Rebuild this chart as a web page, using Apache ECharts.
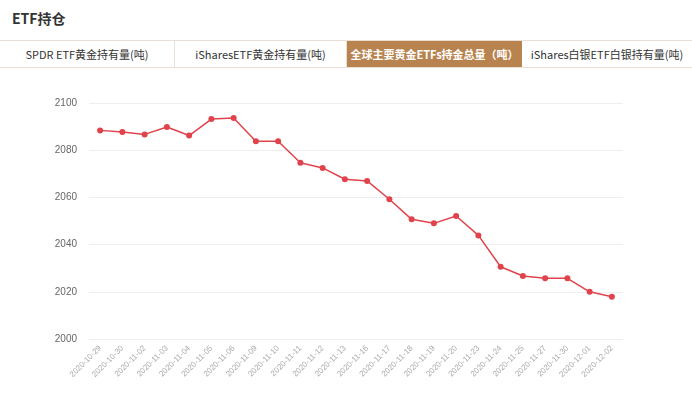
<!DOCTYPE html>
<html>
<head>
<meta charset="utf-8">
<script src="https://cdn.jsdelivr.net/npm/echarts@6/dist/echarts.min.js"></script>
<style>
  html, body { margin: 0; padding: 0; background: #fff; font-family: "Noto Sans CJK SC", "Noto Sans", sans-serif; }
  .title { height: 40px; line-height: 36px; padding-left: 12px; font-size: 14px; font-weight: bold; color: #333; }
  .tabs { display: flex; height: 28px; border-top: 1px solid #e9dfd5; border-bottom: 1px solid #e9dfd5; box-sizing: border-box; }
  .tab { line-height: 26px; font-size: 11px; color: #333; text-align: center; border-right: 1px solid #e9dfd5; box-sizing: border-box; white-space: nowrap; }
  .tab.on { background: #b9834f; color: #fff; font-weight: bold; border-right: none; }
  #container { width: 692px; height: 330px; }
</style>
</head>
<body>
<div class="title">ETF持仓</div>
<div class="tabs">
  <div class="tab" style="width:175px">SPDR ETF黄金持有量(吨)</div>
  <div class="tab" style="width:172px">iSharesETF黄金持有量(吨)</div>
  <div class="tab on" style="width:175px">全球主要黄金ETFs持金总量（吨）</div>
  <div class="tab" style="width:170px;border-right:none">iShares白银ETF白银持有量(吨)</div>
</div>
<div id="container"></div>
<script>
"use strict";

// 日期
let dates = [
  "2020-10-29", "2020-10-30", "2020-11-02", "2020-11-03", "2020-11-04", "2020-11-05",
  "2020-11-06", "2020-11-09", "2020-11-10", "2020-11-11", "2020-11-12", "2020-11-13",
  "2020-11-16", "2020-11-17", "2020-11-18", "2020-11-19", "2020-11-20", "2020-11-23",
  "2020-11-24", "2020-11-25", "2020-11-27", "2020-11-30", "2020-12-01", "2020-12-02"
];
// 持金总量（吨）
let holdings = [
  2088.4, 2087.7, 2086.7, 2089.8, 2086.2, 2093.2,
  2093.6, 2083.8, 2083.8, 2074.7, 2072.5, 2067.7,
  2067.0, 2059.2, 2050.7, 2049.0, 2052.1, 2043.9,
  2030.6, 2026.7, 2025.7, 2025.7, 2020.0, 2017.9
];

let myChart = echarts.init(document.getElementById('container'));

let option = {
  animation: false,
  grid: { // 直角坐标系
    left: 89,
    right: 69,
    top: 35,
    bottom: 59,
  },
  xAxis: {
    type: 'category',
    data: dates,
    axisLine: { show: false },
    axisTick: { show: false },
    axisLabel: {
      rotate: 45,
      fontSize: 8,
      color: '#aaa',
      interval: 0,
      margin: 8,
    },
  },
  yAxis: {
    type: 'value',
    min: 2000,
    max: 2100,
    interval: 20,
    axisLine: { show: false },
    axisTick: { show: false },
    axisLabel: {
      fontSize: 10,
      color: '#666',
      margin: 12,
      formatter: function (value) {
        return String(value);
      },
    },
    splitLine: {
      lineStyle: { color: '#eeeeee' },
    },
  },
  series: [
    {
      type: 'line',
      data: holdings,
      symbol: 'circle',
      symbolSize: 6,
      itemStyle: { color: '#e0434b' },
      lineStyle: { color: '#e0434b', width: 1.5 },
    },
  ],
};

myChart.setOption(option);
</script>
</body>
</html>
